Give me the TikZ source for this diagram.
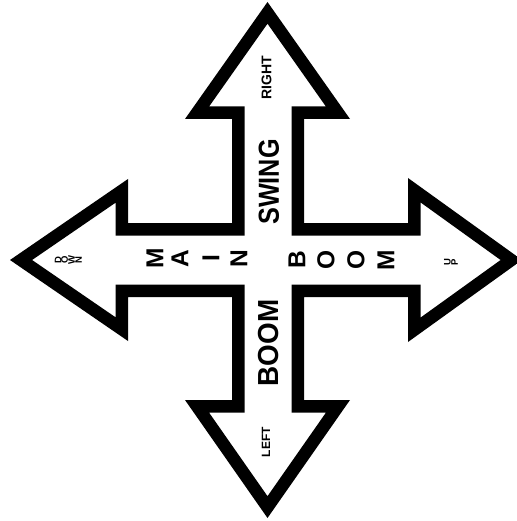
\documentclass[tikz,border=0pt]{standalone}
\usepackage{fontspec}
\setmainfont{Liberation Sans}
\usepackage{graphicx}
\begin{document}
\begin{tikzpicture}[x=1pt,y=-1pt,
  lbl/.style={inner sep=0pt, rotate=90},
  bigtxt/.style={lbl, font=\bfseries\fontsize{29}{29}\selectfont},
  midtxt/.style={lbl, font=\bfseries\fontsize{24.5}{24.5}\selectfont},
  smalltxt/.style={lbl, font=\bfseries\fontsize{14}{14}\selectfont},
  tinytxt/.style={lbl, font=\bfseries\fontsize{9.5}{9.5}\selectfont},
  band/.style={draw=black, line width=25pt, line join=miter}]
\useasboundingbox (0,0) rectangle (516,521);
\fill[white] (0,0) rectangle (516,521);
% outer outline of the cross of arrows
\coordinate (t1) at (267.5,2);
\coordinate (t2) at (350,119);
\coordinate (t3) at (304,119);
\coordinate (c1) at (304,223);
\coordinate (r1) at (408,223);
\coordinate (r2) at (408,178);
\coordinate (r3) at (522,260);
\coordinate (r4) at (408,342);
\coordinate (r5) at (408,297);
\coordinate (c2) at (304,297);
\coordinate (b1) at (304,400);
\coordinate (b2) at (350,400);
\coordinate (b3) at (267.5,518);
\coordinate (b4) at (185,400);
\coordinate (b5) at (232,400);
\coordinate (c3) at (232,297);
\coordinate (l1) at (128,297);
\coordinate (l2) at (128,341);
\coordinate (l3) at (10,260);
\coordinate (l4) at (128,179);
\coordinate (l5) at (128,223);
\coordinate (c4) at (232,223);
\coordinate (t4) at (232,119);
\coordinate (t5) at (185,119);
\begin{scope}
\clip (t1) -- (t2) -- (t3) -- (c1) -- (r1) -- (r2) -- (r3) -- (r4) -- (r5) -- (c2)
  -- (b1) -- (b2) -- (b3) -- (b4) -- (b5) -- (c3) -- (l1) -- (l2) -- (l3) -- (l4)
  -- (l5) -- (c4) -- (t4) -- (t5) -- cycle;
\path[band] (t1) -- (t2) -- (t3) -- (c1) -- (r1) -- (r2) -- (r3) -- (r4) -- (r5) -- (c2)
  -- (b1) -- (b2) -- (b3) -- (b4) -- (b5) -- (c3) -- (l1) -- (l2) -- (l3) -- (l4)
  -- (l5) -- (c4) -- (t4) -- (t5) -- cycle;
\end{scope}
% vertical words
\node[bigtxt] (swing) at (269,182) {\scalebox{0.87}[1]{SWING}};
\node[bigtxt] (boomv) at (269,343) {\scalebox{0.96}[1]{BOOM}};
\node[smalltxt] (right) at (266.5,77.5) {RIGHT};
\node[smalltxt, font=\bfseries\fontsize{12}{12}\selectfont] (left) at (266,442) {LEFT};
% MAIN letters
\node[midtxt] (m1) at (155,258.5) {M};
\node[midtxt] (m2) at (180,258.5) {A};
\node[midtxt] (m3) at (211,258.5) {I};
\node[midtxt] (m4) at (239,258.5) {N};
% BOOM letters
\node[midtxt] (o1) at (297,260) {B};
\node[midtxt] (o2) at (326,260) {O};
\node[midtxt] (o3) at (356,260) {O};
\node[midtxt] (o4) at (386,260) {M};
% DOWN letters
\node[tinytxt] (d1) at (58,260) {D};
\node[tinytxt] (d2) at (64.5,260) {O};
\node[tinytxt] (d3) at (71.5,260) {W};
\node[tinytxt] (d4) at (78.5,260) {N};
% UP letters
\node[tinytxt] (u1) at (447.5,262) {U};
\node[tinytxt] (u2) at (454.5,262) {P};
\end{tikzpicture}
\end{document}
